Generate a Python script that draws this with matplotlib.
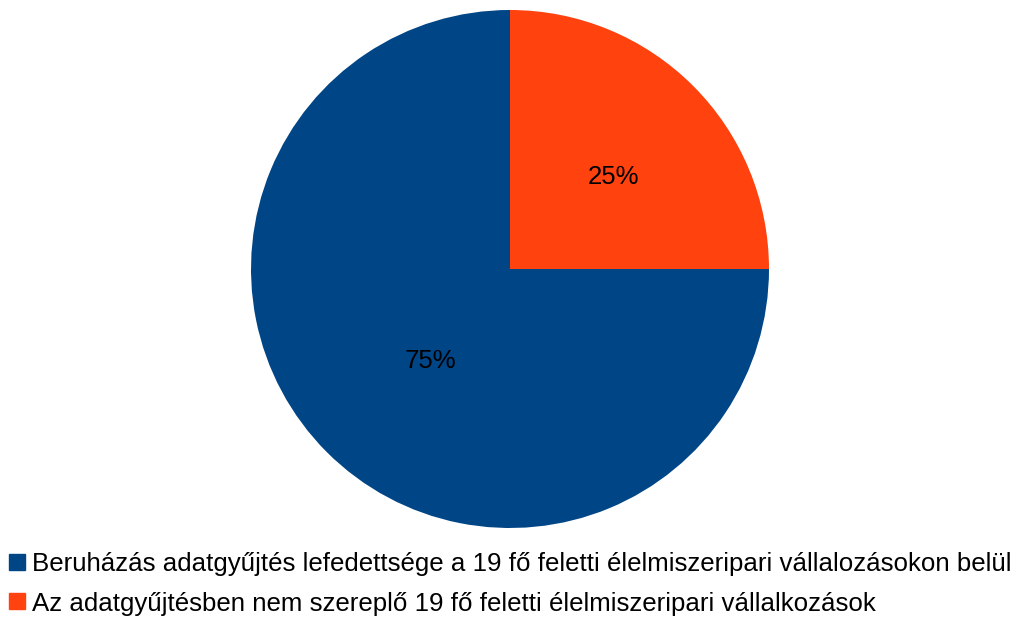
import matplotlib.pyplot as plt
from matplotlib.lines import Line2D

labels = ['Beruházás adatgyűjtés lefedettsége a 19 fő feletti élelmiszeripari vállalozásokon belül',
          'Az adatgyűjtésben nem szereplő 19 fő feletti élelmiszeripari vállalkozások']
values = [75, 25]
colors = ['#004586', '#ff420e']

plt.rcParams['font.family'] = ['Liberation Sans', 'DejaVu Sans']

fig = plt.figure(figsize=(10.18, 6.21), dpi=100)
# pie centre ~ (510, 269) px, radius ~259 px
ax = fig.add_axes([(510 - 259) / 1018, (621 - 528) / 621, 518 / 1018, 518 / 621])
wedges, texts, autotexts = ax.pie(values, colors=colors, startangle=90, counterclock=True,
                                  autopct='%d%%', pctdistance=0.5, radius=1,
                                  wedgeprops=dict(linewidth=0),
                                  textprops=dict(fontsize=18.5, color='black'))
# labels sit a bit to the right in the original
for t in autotexts:
    x, y = t.get_position()
    t.set_position((x + 0.046, y))
ax.set_xlim(-1, 1)
ax.set_ylim(-1, 1)
ax.set_aspect('equal')

handles = [Line2D([], [], marker='s', linestyle='none', markersize=11,
                  markerfacecolor=c, markeredgecolor=c) for c in colors]
fig.legend(handles, labels, loc='upper left', bbox_to_anchor=(9 / 1018, 1 - 552 / 621),
           frameon=False, fontsize=18.6, handlelength=0.6, handletextpad=0.3,
           labelspacing=0.6, borderpad=0, borderaxespad=0)

fig.savefig('out.png', dpi=100)
